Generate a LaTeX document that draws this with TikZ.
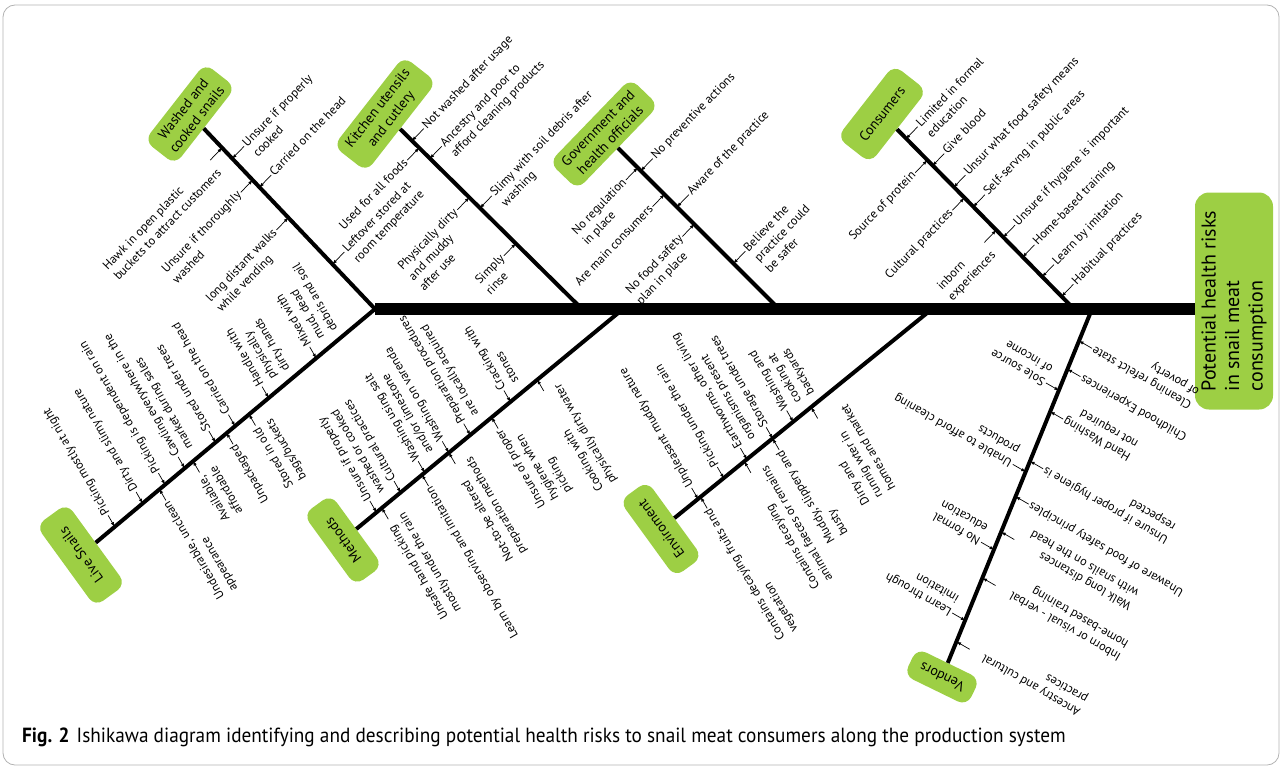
\documentclass[tikz,border=0pt]{standalone}
\usepackage{fontspec}
\setmainfont{PT Sans}
\newfontfamily\capfont[FakeStretch=0.94]{PT Sans}
\usepackage{tikz}
\usetikzlibrary{arrows.meta,calc}

\definecolor{fishgreen}{RGB}{157,207,68}

\begin{document}
\begin{tikzpicture}[
  x=1pt,y=1pt,
  frame/.style={draw=gray!60,line width=0.8pt,rounded corners=12pt},
  spine/.style={line width=12pt},
  bone/.style={line width=4pt},
  ar/.style={-{Latex[length=4.5pt,width=3.5pt]},line width=0.7pt},
  cause/.style={fill=fishgreen,rounded corners=10pt,align=center,
                font=\fontsize{14}{17}\selectfont,inner xsep=9pt,inner ysep=6pt},
  effect/.style={fill=fishgreen,rounded corners=14pt,align=left,rotate=90,
                 font=\fontsize{20}{23.5}\selectfont,minimum width=217pt,minimum height=78pt},
  lbl/.style={font=\fontsize{12.3}{15}\selectfont,align=left,inner sep=1.5pt},
  topr/.style={lbl,rotate=46,anchor=north west},
  topl/.style={lbl,rotate=46,anchor=north east},
  botr/.style={lbl,rotate=120,anchor=north east},
  botl/.style={lbl,rotate=120,anchor=north west},
  venr/.style={lbl,rotate=150,anchor=north east},
  venl/.style={lbl,rotate=150,anchor=north west},
  caption/.style={anchor=base west,inner sep=0pt,font=\capfont\fontsize{20.5}{24}\selectfont}
]
\useasboundingbox (0,0) rectangle (1282,-768);
\draw[frame] (3,-5) rectangle (1279,-765);

%%%%%%%%%%%%%%%%%%%%%% bone end points %%%%%%%%%%%%%%%%%%%%%%%%%%%%%%%%%%%%
\coordinate (wsA) at (205,-130); \coordinate (wsB) at (375,-309);
\coordinate (kuA) at (403,-132); \coordinate (kuB) at (582,-309);
\coordinate (goA) at (622,-152); \coordinate (goB) at (779,-309);
\coordinate (coA) at (897,-130); \coordinate (coB) at (1074,-309);
\coordinate (lsA) at (95,-543);  \coordinate (lsB) at (375,-309);
\coordinate (meA) at (355,-530); \coordinate (meB) at (623,-309);
\coordinate (enA) at (675,-518); \coordinate (enB) at (932,-309);
\coordinate (veA) at (948,-663); \coordinate (veB) at (1092,-309);

%%%%%%%%%%%%%%%%%%%%%% head and spine %%%%%%%%%%%%%%%%%%%%%%%%%%%%%%%%%%%%%
\node[effect] (eff) at (1234,-301) {Potential health risks\\in snail meat\\consumption};
\draw[spine] (wsB) -- (wsB -| eff.north);

%%%%%%%%%%%%%%%%%%%%%% cause boxes %%%%%%%%%%%%%%%%%%%%%%%%%%%%%%%%%%%%%%%%
\node[cause,rotate=52] (ws) at (190,-114) {Washed and\\cooked snails};
\node[cause,rotate=52] (ku) at (385,-114) {Kitchen utensils\\and cutlery};
\node[cause,rotate=46] (go) at (604,-134) {Government and\\health officials};
\node[cause,rotate=52,minimum width=92pt,minimum height=42pt] (co) at (882,-114) {Consumers};
\node[cause,rotate=126,minimum width=100pt,minimum height=38pt] (ls) at (81,-555) {Live Snails};
\node[cause,rotate=126,minimum width=88pt,minimum height=34pt] (me) at (343,-540) {Methods};
\node[cause,rotate=126,minimum width=94pt,minimum height=34pt] (en) at (661,-529) {Enviroment};
\node[cause,rotate=154,minimum width=70pt,minimum height=30pt,inner ysep=3pt] (ve) at (942,-677) {Vendors};

\draw[bone] (ws) -- (wsB);
\draw[bone] (ku) -- (kuB);
\draw[bone] (go) -- (goB);
\draw[bone] (co) -- (coB);
\draw[bone] (ls) -- (lsB);
\draw[bone] (me) -- (meB);
\draw[bone] (en) -- (enB);
\draw[bone] (ve) -- (veB);

%%%%%%%%%%%%%%%%%%%%%% washed and cooked snails %%%%%%%%%%%%%%%%%%%%%%%%%%%
\path ($(wsA)!.16!(wsB)$) coordinate (ws1p) ++(46:17) coordinate (ws1q) ++(136:7.3) node[topr] (ws1) {Unsure if properly\\cooked};
\path ($(wsA)!.32!(wsB)$) coordinate (ws2p) ++(46:17) coordinate (ws2q) ++(136:7.3) node[topr] (ws2) {Carried on the head};
\path ($(wsA)!.75!(wsB)$) coordinate (ws3p) ++(46:17) coordinate (ws3q) ++(136:7.3) node[topr] (ws3) {Leftover stored at\\room temperature};
\path ($(wsA)!.10!(wsB)$) coordinate (ws4p) ++(226:17) coordinate (ws4q) ++(136:7.3) node[topl] (ws4) {Hawk in open plastic\\buckets to attract customers};
\path ($(wsA)!.28!(wsB)$) coordinate (ws5p) ++(226:17) coordinate (ws5q) ++(136:7.3) node[topl] (ws5) {Unsure if thoroughly\\washed};
\path ($(wsA)!.49!(wsB)$) coordinate (ws6p) ++(226:17) coordinate (ws6q) ++(136:7.3) node[topl] (ws6) {long distant walks\\while vending};
\path (ws1q) edge[ar] (ws1p) (ws2q) edge[ar] (ws2p) (ws3q) edge[ar] (ws3p)
      (ws4q) edge[ar] (ws4p) (ws5q) edge[ar] (ws5p) (ws6q) edge[ar] (ws6p);

%%%%%%%%%%%%%%%%%%%%%% kitchen utensils %%%%%%%%%%%%%%%%%%%%%%%%%%%%%%%%%%%
\path ($(kuA)!.05!(kuB)$) coordinate (ku1p) ++(46:17) coordinate (ku1q) ++(136:7.3) node[topr] (ku1) {Not washed after usage};
\path ($(kuA)!.15!(kuB)$) coordinate (ku2p) ++(46:17) coordinate (ku2q) ++(136:7.3) node[topr] (ku2) {Ancestry and poor to\\afford cleaning products};
\path ($(kuA)!.43!(kuB)$) coordinate (ku3p) ++(46:17) coordinate (ku3q) ++(136:7.3) node[topr] (ku3) {Slimy with soil debris after\\washing};
\path ($(kuA)!.09!(kuB)$) coordinate (ku4p) ++(226:17) coordinate (ku4q) ++(136:7.3) node[topl] (ku4) {Used for all foods};
\path ($(kuA)!.37!(kuB)$) coordinate (ku5p) ++(226:17) coordinate (ku5q) ++(136:7.3) node[topl] (ku5) {Physically dirty\\and muddy\\after use};
\path ($(kuA)!.63!(kuB)$) coordinate (ku6p) ++(226:17) coordinate (ku6q) ++(136:7.3) node[topl] (ku6) {Simply\\rinse};
\path (ku1q) edge[ar] (ku1p) (ku2q) edge[ar] (ku2p) (ku3q) edge[ar] (ku3p)
      (ku4q) edge[ar] (ku4p) (ku5q) edge[ar] (ku5p) (ku6q) edge[ar] (ku6p);

%%%%%%%%%%%%%%%%%%%%%% government %%%%%%%%%%%%%%%%%%%%%%%%%%%%%%%%%%%%%%%%%
\path ($(goA)!.10!(goB)$) coordinate (go1p) ++(226:17) coordinate (go1q) ++(136:7.3) node[topl] (go1) {No regulation\\in place};
\path ($(goA)!.27!(goB)$) coordinate (go2p) ++(226:17) coordinate (go2q) ++(136:7.3) node[topl] (go2) {Are main consumers};
\path ($(goA)!.46!(goB)$) coordinate (go3p) ++(226:17) coordinate (go3q) ++(136:7.3) node[topl] (go3) {No food safety\\plan in place};
\path ($(goA)!.12!(goB)$) coordinate (go4p) ++(46:17) coordinate (go4q) ++(136:7.3) node[topr] (go4) {No preventive actions};
\path ($(goA)!.35!(goB)$) coordinate (go5p) ++(46:17) coordinate (go5q) ++(136:7.3) node[topr] (go5) {Aware of the practice};
\path ($(goA)!.71!(goB)$) coordinate (go6p) ++(46:17) coordinate (go6q) ++(136:7.3) node[topr] (go6) {Believe the\\practice could\\be safer};
\path (go1q) edge[ar] (go1p) (go2q) edge[ar] (go2p) (go3q) edge[ar] (go3p)
      (go4q) edge[ar] (go4p) (go5q) edge[ar] (go5p) (go6q) edge[ar] (go6p);

%%%%%%%%%%%%%%%%%%%%%% consumers %%%%%%%%%%%%%%%%%%%%%%%%%%%%%%%%%%%%%%%%%
\path ($(coA)!.05!(coB)$) coordinate (co1p) ++(46:17) coordinate (co1q) ++(136:7.3) node[topr] (co1) {Limited in formal\\education};
\path ($(coA)!.20!(coB)$) coordinate (co2p) ++(46:17) coordinate (co2q) ++(136:7.3) node[topr] (co2) {Give blood};
\path ($(coA)!.32!(coB)$) coordinate (co3p) ++(46:17) coordinate (co3q) ++(136:7.3) node[topr] (co3) {Unsur what food safety means};
\path ($(coA)!.43!(coB)$) coordinate (co4p) ++(46:17) coordinate (co4q) ++(136:7.3) node[topr] (co4) {Self-servng in public areas};
\path ($(coA)!.60!(coB)$) coordinate (co5p) ++(46:17) coordinate (co5q) ++(136:7.3) node[topr] (co5) {Unsure if hygiene is important};
\path ($(coA)!.71!(coB)$) coordinate (co6p) ++(46:17) coordinate (co6q) ++(136:7.3) node[topr] (co6) {Home-based training};
\path ($(coA)!.82!(coB)$) coordinate (co7p) ++(46:17) coordinate (co7q) ++(136:7.3) node[topr] (co7) {Learn by imitation};
\path ($(coA)!.93!(coB)$) coordinate (co8p) ++(46:17) coordinate (co8q) ++(136:7.3) node[topr] (co8) {Habitual practices};
\path ($(coA)!.17!(coB)$) coordinate (co9p) ++(226:17) coordinate (co9q) ++(136:7.3) node[topl] (co9) {Source of protein};
\path ($(coA)!.38!(coB)$) coordinate (co10p) ++(226:17) coordinate (co10q) ++(136:7.3) node[topl] (co10) {Cultural practices};
\path ($(coA)!.56!(coB)$) coordinate (co11p) ++(226:17) coordinate (co11q) ++(136:7.3) node[topl] (co11) {inborn\\experiences};
\path (co1q) edge[ar] (co1p) (co2q) edge[ar] (co2p) (co3q) edge[ar] (co3p) (co4q) edge[ar] (co4p)
      (co5q) edge[ar] (co5p) (co6q) edge[ar] (co6p) (co7q) edge[ar] (co7p) (co8q) edge[ar] (co8p)
      (co9q) edge[ar] (co9p) (co10q) edge[ar] (co10p) (co11q) edge[ar] (co11p);

%%%%%%%%%%%%%%%%%%%%%% live snails %%%%%%%%%%%%%%%%%%%%%%%%%%%%%%%%%%%%%%%%
\path ($(lsA)!.07!(lsB)$) coordinate (ls1p) ++(120:13) coordinate (ls1q) ++(210:7.3) node[botl] (ls1) {Picking mostly at night};
\path ($(lsA)!.17!(lsB)$) coordinate (ls2p) ++(120:13) coordinate (ls2q) ++(210:7.3) node[botl] (ls2) {Dirty and slimy nature};
\path ($(lsA)!.25!(lsB)$) coordinate (ls3p) ++(120:13) coordinate (ls3q) ++(210:7.3) node[botl] (ls3) {Picking is dependent on rain};
\path ($(lsA)!.32!(lsB)$) coordinate (ls4p) ++(120:13) coordinate (ls4q) ++(210:7.3) node[botl] (ls4) {Cawling everywhere in the\\market during sales};
\path ($(lsA)!.43!(lsB)$) coordinate (ls5p) ++(120:13) coordinate (ls5q) ++(210:7.3) node[botl] (ls5) {Stored under trees};
\path ($(lsA)!.50!(lsB)$) coordinate (ls6p) ++(120:13) coordinate (ls6q) ++(210:7.3) node[botl] (ls6) {Carried on the head};
\path ($(lsA)!.62!(lsB)$) coordinate (ls7p) ++(120:13) coordinate (ls7q) ++(210:7.3) node[botl] (ls7) {Handle with\\physically\\dirty hands};
\path ($(lsA)!.79!(lsB)$) coordinate (ls8p) ++(120:13) coordinate (ls8q) ++(210:7.3) node[botl] (ls8) {Mixed with\\mud, dead\\debris and soil};
\path ($(lsA)!.23!(lsB)$) coordinate (ls9p) ++(300:13) coordinate (ls9q) ++(210:7.3) node[botr] (ls9) {Undesirable, unclean\\appearance};
\path ($(lsA)!.35!(lsB)$) coordinate (ls10p) ++(300:13) coordinate (ls10q) ++(210:7.3) node[botr] (ls10) {Available,\\affordable};
\path ($(lsA)!.47!(lsB)$) coordinate (ls11p) ++(300:13) coordinate (ls11q) ++(210:7.3) node[botr] (ls11) {Unpackaged};
\path ($(lsA)!.55!(lsB)$) coordinate (ls12p) ++(300:13) coordinate (ls12q) ++(210:7.3) node[botr] (ls12) {Stored in old\\bags/buckets};
\path (ls1q) edge[ar] (ls1p) (ls2q) edge[ar] (ls2p) (ls3q) edge[ar] (ls3p) (ls4q) edge[ar] (ls4p)
      (ls5q) edge[ar] (ls5p) (ls6q) edge[ar] (ls6p) (ls7q) edge[ar] (ls7p) (ls8q) edge[ar] (ls8p)
      (ls9q) edge[ar] (ls9p) (ls10q) edge[ar] (ls10p) (ls11q) edge[ar] (ls11p) (ls12q) edge[ar] (ls12p);

%%%%%%%%%%%%%%%%%%%%%% methods %%%%%%%%%%%%%%%%%%%%%%%%%%%%%%%%%%%%%%%%%%%%
\path ($(meA)!.08!(meB)$) coordinate (me1p) ++(120:13) coordinate (me1q) ++(210:7.3) node[botl] (me1) {Unsure if properly\\washed or cooked};
\path ($(meA)!.17!(meB)$) coordinate (me2p) ++(120:13) coordinate (me2q) ++(210:7.3) node[botl] (me2) {Cultural practices};
\path ($(meA)!.26!(meB)$) coordinate (me3p) ++(120:13) coordinate (me3q) ++(210:7.3) node[botl] (me3) {Washing using salt\\and/or limestone};
\path ($(meA)!.35!(meB)$) coordinate (me4p) ++(120:13) coordinate (me4q) ++(210:7.3) node[botl] (me4) {Washing on varenda};
\path ($(meA)!.43!(meB)$) coordinate (me5p) ++(120:13) coordinate (me5q) ++(210:7.3) node[botl] (me5) {Preparation procedures\\are locally acquired};
\path ($(meA)!.58!(meB)$) coordinate (me6p) ++(120:13) coordinate (me6q) ++(210:7.3) node[botl] (me6) {Cracking with\\stones};
\path ($(meA)!.10!(meB)$) coordinate (me7p) ++(300:13) coordinate (me7q) ++(210:7.3) node[botr] (me7) {Unsafe hand picking\\mostly under the rain};
\path ($(meA)!.25!(meB)$) coordinate (me8p) ++(300:13) coordinate (me8q) ++(210:7.3) node[botr] (me8) {Learn by observing and imitation};
\path ($(meA)!.35!(meB)$) coordinate (me9p) ++(300:13) coordinate (me9q) ++(210:7.3) node[botr] (me9) {Not-to-be altered\\preparation methods};
\path ($(meA)!.51!(meB)$) coordinate (me10p) ++(300:13) coordinate (me10q) ++(210:7.3) node[botr] (me10) {Unsure of proper\\hygiene when\\picking};
\path ($(meA)!.68!(meB)$) coordinate (me11p) ++(300:13) coordinate (me11q) ++(210:7.3) node[botr] (me11) {Cooking with\\physically dirty water};
\path (me1q) edge[ar] (me1p) (me2q) edge[ar] (me2p) (me3q) edge[ar] (me3p) (me4q) edge[ar] (me4p)
      (me5q) edge[ar] (me5p) (me6q) edge[ar] (me6p) (me7q) edge[ar] (me7p) (me8q) edge[ar] (me8p)
      (me9q) edge[ar] (me9p) (me10q) edge[ar] (me10p) (me11q) edge[ar] (me11p);

%%%%%%%%%%%%%%%%%%%%%% environment %%%%%%%%%%%%%%%%%%%%%%%%%%%%%%%%%%%%%%%%
\path ($(enA)!.09!(enB)$) coordinate (en1p) ++(120:13) coordinate (en1q) ++(210:7.3) node[botl] (en1) {Unpleasant muddy nature};
\path ($(enA)!.19!(enB)$) coordinate (en2p) ++(120:13) coordinate (en2q) ++(210:7.3) node[botl] (en2) {Picking under the rain};
\path ($(enA)!.28!(enB)$) coordinate (en3p) ++(120:13) coordinate (en3q) ++(210:7.3) node[botl] (en3) {Earthworms, other living\\organisms present};
\path ($(enA)!.38!(enB)$) coordinate (en4p) ++(120:13) coordinate (en4q) ++(210:7.3) node[botl] (en4) {Storage under trees};
\path ($(enA)!.46!(enB)$) coordinate (en5p) ++(120:13) coordinate (en5q) ++(210:7.3) node[botl] (en5) {Washing and\\cooking at\\backyards};
\path ($(enA)!.10!(enB)$) coordinate (en6p) ++(300:13) coordinate (en6q) ++(210:7.3) node[botr] (en6) {Contains decaying fruits and\\vegetation};
\path ($(enA)!.27!(enB)$) coordinate (en7p) ++(300:13) coordinate (en7q) ++(210:7.3) node[botr] (en7) {Contains decaying\\animal faeces or remains};
\path ($(enA)!.38!(enB)$) coordinate (en8p) ++(300:13) coordinate (en8q) ++(210:7.3) node[botr] (en8) {Muddy, slippery and\\busty};
\path ($(enA)!.53!(enB)$) coordinate (en9p) ++(300:13) coordinate (en9q) ++(210:7.3) node[botr] (en9) {Dirty and\\runnig wter in\\homes and market};
\path (en1q) edge[ar] (en1p) (en2q) edge[ar] (en2p) (en3q) edge[ar] (en3p) (en4q) edge[ar] (en4p)
      (en5q) edge[ar] (en5p) (en6q) edge[ar] (en6p) (en7q) edge[ar] (en7p) (en8q) edge[ar] (en8p)
      (en9q) edge[ar] (en9p);

%%%%%%%%%%%%%%%%%%%%%% vendors %%%%%%%%%%%%%%%%%%%%%%%%%%%%%%%%%%%%%%%%%%%%
\path ($(veA)!.77!(veB)$) coordinate (ve1p) ++(150:15) coordinate (ve1q) ++(240:7.3) node[venl] (ve1) {Sole source\\of income};
\path ($(veA)!.54!(veB)$) coordinate (ve2p) ++(150:15) coordinate (ve2q) ++(240:7.3) node[venl] (ve2) {Unable to afford cleaning\\products};
\path ($(veA)!.32!(veB)$) coordinate (ve3p) ++(150:15) coordinate (ve3q) ++(240:7.3) node[venl] (ve3) {No formal\\education};
\path ($(veA)!.12!(veB)$) coordinate (ve4p) ++(150:15) coordinate (ve4q) ++(240:7.3) node[venl] (ve4) {Learn through\\imitation};
\path ($(veA)!.91!(veB)$) coordinate (ve5p) ++(330:15) coordinate (ve5q) ++(240:7.3) node[venr] (ve5) {Cleaning refelct state\\of poverty};
\path ($(veA)!.83!(veB)$) coordinate (ve6p) ++(330:15) coordinate (ve6q) ++(240:7.3) node[venr] (ve6) {Childhood Experiences};
\path ($(veA)!.71!(veB)$) coordinate (ve7p) ++(330:15) coordinate (ve7q) ++(240:7.3) node[venr] (ve7) {Hand Washing\\not required};
\path ($(veA)!.57!(veB)$) coordinate (ve8p) ++(330:15) coordinate (ve8q) ++(240:7.3) node[venr] (ve8) {Unsure if proper hygiene is\\respected};
\path ($(veA)!.47!(veB)$) coordinate (ve9p) ++(330:15) coordinate (ve9q) ++(240:7.3) node[venr] (ve9) {Unaware of food safety principles};
\path ($(veA)!.37!(veB)$) coordinate (ve10p) ++(330:15) coordinate (ve10q) ++(330:10) ++(240:7.3) node[venr] (ve10) {Walk long distances\\with snails on the head};
\path ($(veA)!.24!(veB)$) coordinate (ve11p) ++(330:15) coordinate (ve11q) ++(330:16) ++(240:7.3) node[venr] (ve11) {Inborn or visual - verbal\\home-based training};
\path ($(veA)!.06!(veB)$) coordinate (ve12p) ++(330:15) coordinate (ve12q) ++(330:14) ++(240:7.3) node[venr] (ve12) {Ancestry and cultural\\practices};
\path (ve1q) edge[ar] (ve1p) (ve2q) edge[ar] (ve2p) (ve3q) edge[ar] (ve3p) (ve4q) edge[ar] (ve4p)
      (ve5q) edge[ar] (ve5p) (ve6q) edge[ar] (ve6p) (ve7q) edge[ar] (ve7p) (ve8q) edge[ar] (ve8p)
      (ve9q) edge[ar] (ve9p) (ve10q) edge[ar] (ve10p) (ve11q) edge[ar] (ve11p) (ve12q) edge[ar] (ve12p);

%%%%%%%%%%%%%%%%%%%%%% caption %%%%%%%%%%%%%%%%%%%%%%%%%%%%%%%%%%%%%%%%%%%%
\node[caption] (cap) at (22,-742) {\textbf{Fig. 2}\hspace{7pt}Ishikawa diagram identifying and describing potential health risks to snail meat consumers along the production system};
\end{tikzpicture}
\end{document}
